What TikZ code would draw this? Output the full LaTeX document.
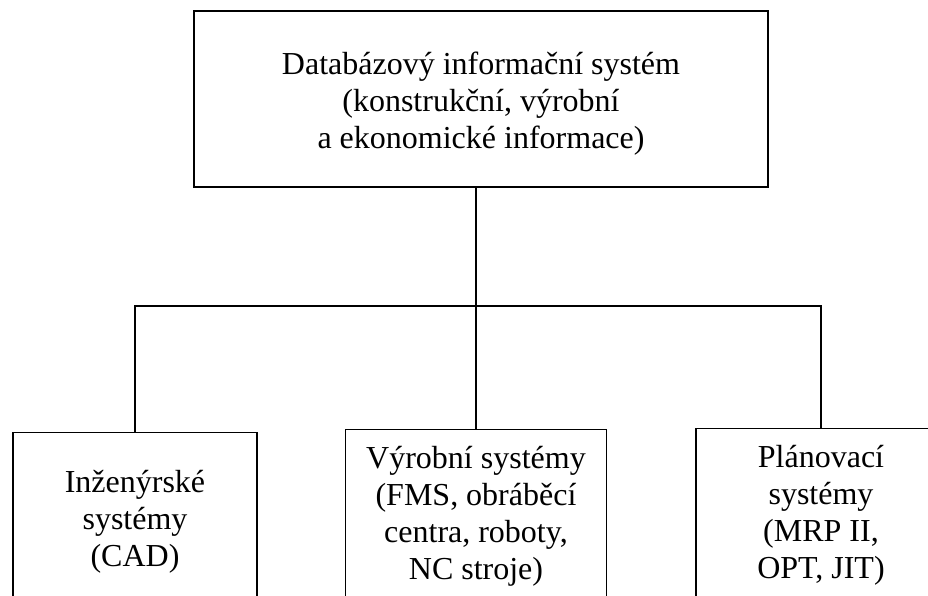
\documentclass[tikz,border=0pt]{standalone}
\usepackage{fontspec}
\setmainfont{Liberation Serif}
\begin{document}
\begin{tikzpicture}[x=1pt,y=-1pt,
  txt/.style={align=center, inner sep=0pt, font=\fontsize{32}{37}\selectfont},
  box/.style={draw, line width=1.3pt, inner sep=0pt, txt},
  conn/.style={line width=1.3pt}]
\useasboundingbox (0,0) rectangle (928,596);
\begin{scope}
\clip (0,0) rectangle (928,596);
\node[box, minimum width=574pt, minimum height=176pt,
  label={[txt, yshift=-5pt]center:Databázový informační systém\\(konstrukční, výrobní\\a ekonomické informace)}] (top) at (481,99) {};
\node[box, minimum width=244pt, minimum height=178pt, anchor=north] (ing) at (135,432)
  {Inženýrské\\systémy\\(CAD)};
\node[box, minimum width=261pt, minimum height=174pt, anchor=north] (vyr) at (476,429)
  {Výrobní systémy\\(FMS, obráběcí\\centra, roboty,\\NC stroje)};
\node[box, minimum width=250pt, minimum height=174pt, anchor=north] (pla) at (821,428)
  {Plánovací\\systémy\\(MRP II,\\OPT, JIT)};
\coordinate (j) at (476,306);
\draw[conn] (top.south -| vyr.north) -- (vyr.north);
\draw[conn] (ing.north) |- (j) -| (pla.north);
\end{scope}
\end{tikzpicture}
\end{document}
